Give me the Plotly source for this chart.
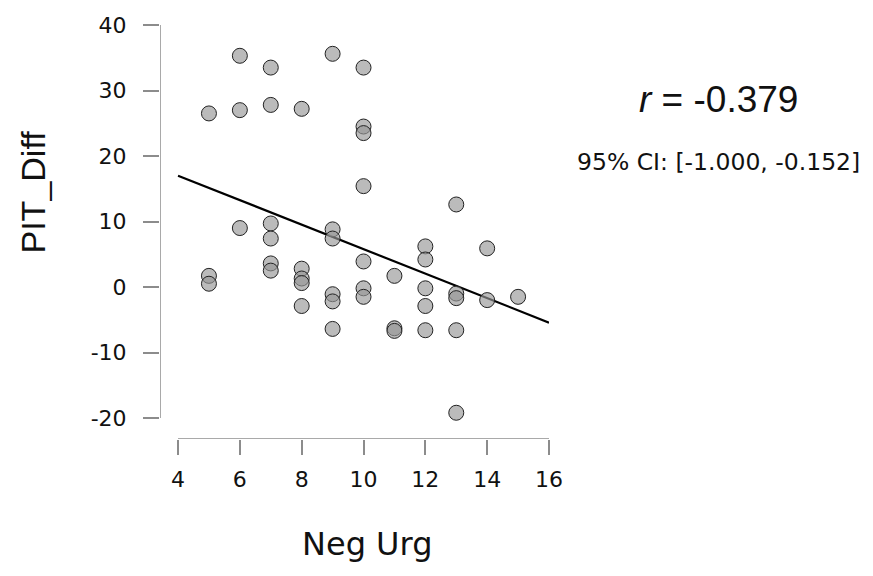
import plotly.graph_objects as go

neg_urg = [6, 7, 9, 10, 5, 6, 7, 8, 10, 10, 10, 13,
           6, 7, 7, 9, 9, 10, 5, 5, 7, 7, 8, 8, 8, 8,
           9, 9, 9, 10, 10, 11, 11, 11, 12, 12, 12, 12, 12,
           13, 13, 13, 13, 14, 14, 15]
pit_diff = [35.3, 33.5, 35.6, 33.5, 26.5, 27.0, 27.8, 27.2, 24.5, 23.5, 15.4, 12.6,
            9.0, 9.7, 7.4, 8.8, 7.4, 3.9, 1.7, 0.5, 3.6, 2.5, 2.8, 1.3, 0.6, -2.9,
            -1.1, -2.2, -6.4, -0.2, -1.5, 1.7, -6.3, -6.7, 6.2, 4.2, -0.2, -2.9, -6.6,
            -1.0, -1.7, -6.6, -19.2, 5.9, -2.0, -1.5]

# regression line as drawn in the reference (intercept and slope)
fit_intercept = 24.48
fit_slope = -1.87

x_ticks = [4, 6, 8, 10, 12, 14, 16]
x_tick_labels = ["4", "6", "8", "10", "12", "14", "16"]
y_ticks = [-20, -10, 0, 10, 20, 30, 40]
y_tick_labels = ["-20", "-10", "0", "10", "20", "30", "40"]
x_title = "Neg Urg"
y_title = "PIT_Diff"
r_text = "<i>r</i> = -0.379"
ci_text = "95% CI: [-1.000, -0.152]"

line_x = [x_ticks[0], x_ticks[-1]]
line_y = [fit_intercept + fit_slope * v for v in line_x]

ARIAL = "Liberation Sans, Arial, sans-serif"
DEJAVU = "DejaVu Sans, sans-serif"

# plot area in pixels
L, R, T, B = 160, 549, 25, 439
W, H = 873, 576


def px(x):
    return (x - L) / (R - L)


def py(y):
    return (B - y) / (B - T)


xmin = 4 - 18 / 30.85
ymin = -20 - 21 / 6.55

fig = go.Figure()
fig.add_trace(go.Scatter(
    x=line_x, y=line_y, mode="lines",
    line=dict(color="black", width=2.2), hoverinfo="skip", showlegend=False,
    cliponaxis=False,
))
fig.add_trace(go.Scatter(
    x=neg_urg, y=pit_diff, mode="markers",
    marker=dict(size=15, color="rgba(150,150,150,0.65)",
                line=dict(color="#222222", width=1)),
    showlegend=False, cliponaxis=False,
))

fig.add_shape(type="line", xref="x", yref="y", x0=4, x1=16, y0=ymin, y1=ymin,
              line=dict(color="#8c8c8c", width=1.5))
fig.add_shape(type="line", xref="x", yref="y", x0=xmin, x1=xmin, y0=-20, y1=40,
              line=dict(color="#8c8c8c", width=1.5))

fig.update_layout(
    width=W, height=H,
    margin=dict(l=L, r=W - R, t=T, b=H - B),
    paper_bgcolor="white", plot_bgcolor="white",
    font=dict(family=ARIAL, color="black"),
    xaxis=dict(range=[xmin, 16], tickvals=x_ticks, ticktext=x_tick_labels,
               ticks="outside", ticklen=15,
               tickcolor="#8c8c8c", tickwidth=1.5, showgrid=False, zeroline=False,
               showline=False, tickfont=dict(family=DEJAVU, size=22, color="#111111"),
               ticklabelstandoff=6),
    yaxis=dict(range=[ymin, 40], tickvals=y_ticks, ticktext=y_tick_labels,
               ticks="outside", ticklen=16,
               tickcolor="#8c8c8c", tickwidth=1.5, showgrid=False, zeroline=False,
               showline=False, tickfont=dict(family=DEJAVU, size=22, color="#111111"),
               ticklabelstandoff=12),
    annotations=[
        dict(x=px(367), y=py(544), xref="paper", yref="paper", text=x_title,
             showarrow=False, font=dict(family=DEJAVU, size=32, color="#111111"),
             xanchor="center", yanchor="middle"),
        dict(x=px(32), y=py(192.5), xref="paper", yref="paper", text=y_title,
             showarrow=False, textangle=-90, font=dict(family=ARIAL, size=34, color="#111111"),
             xanchor="center", yanchor="middle"),
        dict(x=px(718), y=py(99), xref="paper", yref="paper", text=r_text,
             showarrow=False, font=dict(family=ARIAL, size=37, color="#111111"),
             xanchor="center", yanchor="middle"),
        dict(x=px(718), y=py(162), xref="paper", yref="paper", text=ci_text,
             showarrow=False, font=dict(family=DEJAVU, size=23.5, color="#111111"),
             xanchor="center", yanchor="middle"),
    ],
)

fig.write_html("out.html")
